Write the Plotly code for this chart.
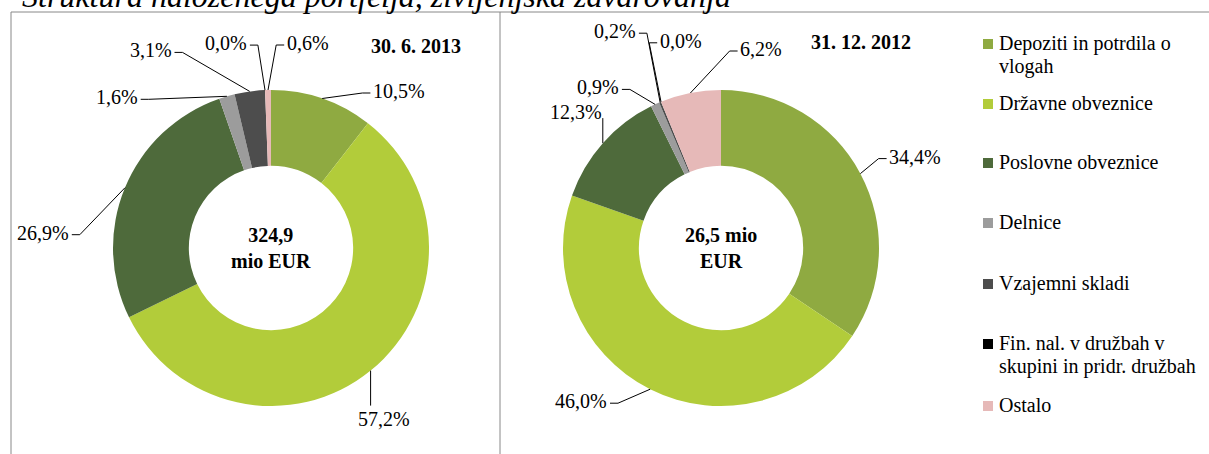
import math
import plotly.graph_objects as go

# ---------------- data ----------------
title_text = "Struktura naloženega portfelja, življenjska zavarovanja"
categories = [
    "Depoziti in potrdila o vlogah",
    "Državne obveznice",
    "Poslovne obveznice",
    "Delnice",
    "Vzajemni skladi",
    "Fin. nal. v družbah v skupini in pridr. družbah",
    "Ostalo",
]
legend_lines = [
    ["Depoziti in potrdila o", "vlogah"],
    ["Državne obveznice"],
    ["Poslovne obveznice"],
    ["Delnice"],
    ["Vzajemni skladi"],
    ["Fin. nal. v družbah v", "skupini in pridr. družbah"],
    ["Ostalo"],
]
share_2013 = [10.5, 57.2, 26.9, 1.6, 3.1, 0.0, 0.6]
share_2012 = [34.4, 46.0, 12.3, 0.9, 0.2, 0.0, 6.2]
dates = ["30. 6. 2013", "31. 12. 2012"]
totals = [["324,9", "mio EUR"], ["26,5 mio", "EUR"]]

# ---------------- style ----------------
W, H = 1209, 454
colors = ["#8FAA41", "#B2CC3A", "#4E6A3B", "#9C9C9C", "#4D4D4D", "#000000", "#E6B9B8"]
FONT = "Liberation Serif"
FS = 20
centers = [(271, 248), (721, 248)]
R = 158
HOLE = 0.52
# label offset (dx, dy) from the slice anchor on the outer edge, and where the leader attaches
label_style = [
    [(77, -7.5, "left"), (13, 48, "top"), (-82, 45, "right"), (-110, 1, "right"),
     (-99, -41, "right"), (-39, -47, "right"), (40, -47, "left")],
    [(55, -17, "left"), (-69, 12, "right"), (-27, -31, "vbelow"), (-57, -17, "right"),
     (-45, -71, "right"), (20, -61, "left"), (71, -44, "left")],
]
date_pos = [(416, 46), (861, 42)]
legend_x = 983
legend_y = [43, 103, 162, 222, 283, 343, 405]
line_gap = 23


def fmt(v):
    return f"{v:.1f}".replace(".", ",") + "%"


def text_width(s, size=FS):
    w = 0.0
    for ch in s:
        if ch.isdigit():
            w += 0.5
        elif ch == ",":
            w += 0.25
        elif ch == "%":
            w += 0.833
        else:
            w += 0.5
    return w * size


fig = go.Figure()

# invisible pixel-space axes for overlays
fig.add_trace(go.Scatter(x=[0, W], y=[0, H], mode="markers", marker=dict(opacity=0),
                         hoverinfo="skip", showlegend=False))

annotations = []
shapes = []

for k, shares in enumerate([share_2013, share_2012]):
    cx, cy = centers[k]
    fig.add_trace(go.Pie(
        values=shares, labels=categories, sort=False, direction="clockwise", rotation=0,
        hole=HOLE, textinfo="none", showlegend=False,
        marker=dict(colors=colors, line=dict(width=0)),
        domain=dict(x=[(cx - R) / W, (cx + R) / W], y=[1 - (cy + R) / H, 1 - (cy - R) / H]),
        hovertemplate="%{label}: %{value:.1f}%<extra></extra>",
    ))
    total = sum(shares)
    cum = 0.0
    for i, v in enumerate(shares):
        mid = (cum + v / 2) / total
        cum += v
        ang = 2 * math.pi * mid
        ax_, ay_ = cx + R * math.sin(ang), cy - R * math.cos(ang)
        dx, dy, side = label_style[k][i]
        tx, ty = ax_ + dx, ay_ + dy
        txt = fmt(v)
        annotations.append(dict(x=tx, y=ty, xref="x", yref="y", text=txt, showarrow=False,
                                font=dict(family=FONT, size=FS, color="#000"),
                                xanchor="center", yanchor="middle"))
        hw = text_width(txt) / 2
        if side == "left":
            sx, sy = tx - hw - 3, ty + 2
            pts = [(ax_, ay_), (sx - 8, sy), (sx, sy)]
        elif side == "right":
            sx, sy = tx + hw + 3, ty + 2
            pts = [(ax_, ay_), (sx + 8, sy), (sx, sy)]
        elif side == "top":
            pts = [(ax_, ay_), (ax_, ty - 13)]
        else:  # vbelow
            pts = [(ax_, ay_), (ax_, ty + 6)]
        path = "M " + " L ".join(f"{px:.1f},{py:.1f}" for px, py in pts)
        shapes.append(dict(type="path", path=path, xref="x", yref="y",
                           line=dict(color="#000", width=1), layer="above"))
    # center total
    annotations.append(dict(x=cx, y=cy, xref="x", yref="y", text="<b>" + "<br>".join(totals[k]) + "</b>",
                            showarrow=False, font=dict(family=FONT, size=FS, color="#000"),
                            xanchor="center", yanchor="middle"))
    annotations.append(dict(x=date_pos[k][0], y=date_pos[k][1], xref="x", yref="y",
                            text="<b>" + dates[k] + "</b>", showarrow=False,
                            font=dict(family=FONT, size=FS, color="#000"),
                            xanchor="center", yanchor="middle"))

# legend (manual, from categories and colors)
for i, lines in enumerate(legend_lines):
    y0 = legend_y[i]
    shapes.append(dict(type="rect", xref="x", yref="y", x0=legend_x, x1=legend_x + 10,
                       y0=y0 - 4, y1=y0 + 6, fillcolor=colors[i], line=dict(width=0)))
    for j, ln in enumerate(lines):
        annotations.append(dict(x=legend_x + 14, y=y0 + j * line_gap, xref="x", yref="y", text=ln,
                                showarrow=False, font=dict(family=FONT, size=FS, color="#000"),
                                xanchor="left", yanchor="middle"))

# title (cut at top as in the reference) - paper coords so it may sit partly off-page
annotations.append(dict(x=20 / W, y=1 + 4 / H, xref="paper", yref="paper",
                        text="<i>" + title_text + "</i>",
                        showarrow=False, font=dict(family=FONT, size=32, color="#000"),
                        xanchor="left", yanchor="middle"))

# panel frame
frame = "#888888"
shapes += [
    dict(type="line", xref="x", yref="y", x0=11, x1=W, y0=12, y1=12, line=dict(color=frame, width=1)),
    dict(type="line", xref="x", yref="y", x0=11, x1=11, y0=12, y1=H, line=dict(color=frame, width=1)),
    dict(type="line", xref="x", yref="y", x0=500, x1=500, y0=12, y1=H, line=dict(color=frame, width=1)),
]

fig.update_layout(
    width=W, height=H, margin=dict(l=0, r=0, t=0, b=0),
    paper_bgcolor="white", plot_bgcolor="white",
    xaxis=dict(range=[0, W], visible=False, fixedrange=True),
    yaxis=dict(range=[H, 0], visible=False, fixedrange=True),
    annotations=annotations, shapes=shapes, showlegend=False,
)

fig.write_html("out.html", config=dict(displayModeBar=False),
               post_script="document.body.style.margin='0';document.body.style.overflow='hidden';")
